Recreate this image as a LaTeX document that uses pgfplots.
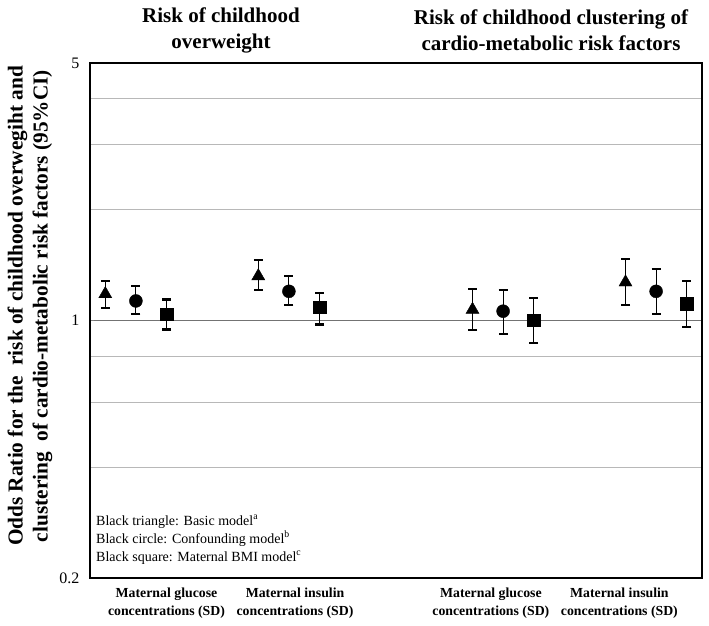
\documentclass[border=0pt]{standalone}
\usepackage{fontspec}
\setmainfont{Liberation Serif}
\usepackage{pgfplots}
\pgfplotsset{compat=1.18}
\usepackage{pgfplotstable}

% x, estimate, upper CI, lower CI
\pgfplotstableread{
x y hi lo
0.5 1.18 1.28 1.08
5.5 1.32 1.46 1.21
12.5 1.07 1.22 0.94
17.5 1.27 1.47 1.10
}\basic
\pgfplotstableread{
x y hi lo
1.5 1.13 1.24 1.04
6.5 1.20 1.32 1.10
13.5 1.06 1.21 0.92
18.5 1.20 1.38 1.04
}\confound
\pgfplotstableread{
x y hi lo
2.5 1.04 1.14 0.945
7.5 1.085 1.19 0.975
14.5 1.00 1.15 0.87
19.5 1.11 1.28 0.96
}\bmi

\begin{document}
\begin{tikzpicture}[x=1pt,y=1pt]
\useasboundingbox (-90,-47) rectangle (619,578);
\begin{axis}[
  at={(0,0)}, anchor=south west,
  scale only axis, width=612pt, height=515pt,
  xmin=0, xmax=20,
  ymode=log, ymin=0.2, ymax=5,
  ytick={0.2,1,5}, yticklabels={0.2,1,5},
  minor ytick={0.4,0.6,0.8,2,3,4},
  ymajorgrids, yminorgrids,
  major grid style={black!55, line width=0.9pt},
  minor grid style={black!28, line width=0.9pt},
  ytick pos=left, tick align=inside,
  major tick length=4pt, minor tick length=0pt,
  yticklabel style={font=\fontsize{16}{18}\selectfont, xshift=-7pt},
  /pgf/number format/assume math mode=true,
  xtick={2.5,6.7,13.1,17.3},
  xticklabels={Maternal glucose\\concentrations (SD),
               Maternal insulin\\concentrations (SD),
               Maternal glucose\\concentrations (SD),
               Maternal insulin\\concentrations (SD)},
  xticklabel style={align=center, font=\bfseries\fontsize{13.8}{18}\selectfont, yshift=-6pt},
  major x tick style={draw=none},
  axis line style={line width=1.3pt},
  error bars/error bar style={line width=1pt},
  error bars/error mark options={rotate=90, line width=2.2pt, mark size=4.5pt},
]
\addplot[only marks, black, mark=triangle*, mark size=7.5pt,
  error bars/.cd, y dir=both, y explicit]
  table[x=x, y=y, y error plus expr=\thisrow{hi}-\thisrow{y}, y error minus expr=\thisrow{y}-\thisrow{lo}] {\basic};
\addplot[only marks, black, mark=*, mark size=6.5pt,
  error bars/.cd, y dir=both, y explicit]
  table[x=x, y=y, y error plus expr=\thisrow{hi}-\thisrow{y}, y error minus expr=\thisrow{y}-\thisrow{lo}] {\confound};
\addplot[only marks, black, mark=square*, mark size=6.2pt,
  error bars/.cd, y dir=both, y explicit]
  table[x=x, y=y, y error plus expr=\thisrow{hi}-\thisrow{y}, y error minus expr=\thisrow{y}-\thisrow{lo}] {\bmi};
\end{axis}
% annotation text inside the plot area
\node[anchor=base west, font=\fontsize{14}{16}\selectfont, inner sep=0] at (6,53) {Black triangle: Basic model\textsuperscript{a}};
\node[anchor=base west, font=\fontsize{14}{16}\selectfont, inner sep=0] at (6,35) {Black circle: Confounding model\textsuperscript{b}};
\node[anchor=base west, font=\fontsize{14}{16}\selectfont, inner sep=0] at (6,17) {Black square: Maternal BMI model\textsuperscript{c}};
% panel titles
\node[align=center, font=\bfseries\fontsize{21}{26}\selectfont] at (131,548) {Risk of childhood\\overweight};
\node[align=center, font=\bfseries\fontsize{21}{26}\selectfont] at (461,548) {Risk of childhood clustering of\\cardio-metabolic risk factors};
% y axis label
\node[rotate=90, align=center, font=\bfseries\fontsize{21.3}{25}\selectfont] at (-60,272) {Odds Ratio for the\ \ risk of childhood overwegiht and\\clustering\ \ of cardio-metabolic risk factors (95\%CI)};
\end{tikzpicture}
\end{document}
